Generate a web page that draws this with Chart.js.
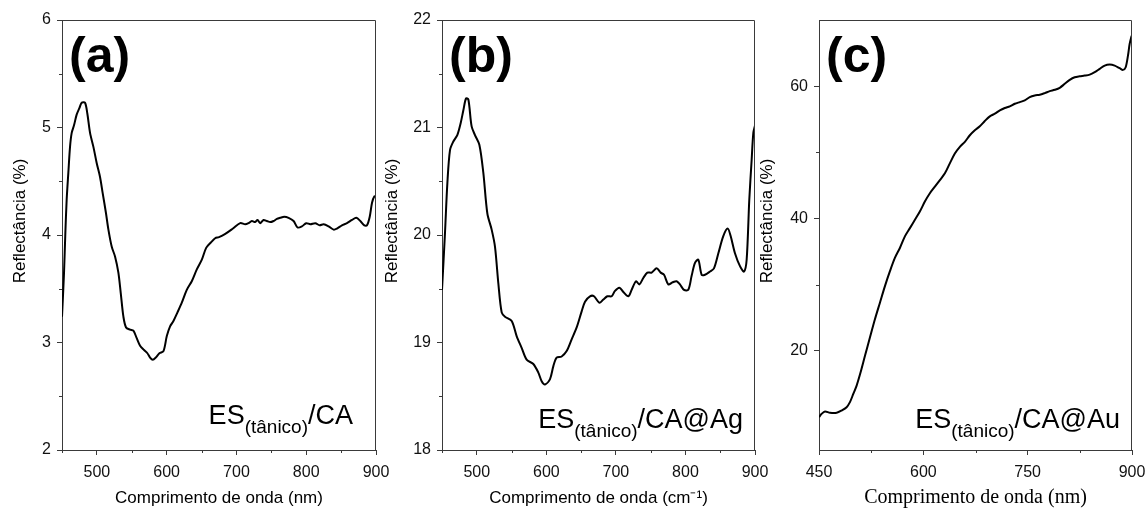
<!DOCTYPE html>
<html>
<head>
<meta charset="utf-8">
<script src="https://cdn.jsdelivr.net/npm/chart.js@4.4.1/dist/chart.umd.min.js"></script>
<style>
  html, body { margin: 0; padding: 0; background: #fff; }
  #wrap { position: relative; width: 1148px; height: 510px; overflow: hidden; }
  #wrap canvas { position: absolute; top: 0; }
</style>
</head>
<body>
<div id="wrap">
  <canvas id="chartA" width="402" height="510" style="left:0"></canvas>
  <canvas id="chartB" width="406" height="510" style="left:375px"></canvas>
  <canvas id="chartC" width="403" height="510" style="left:755px"></canvas>
</div>
<script>
// (a) ES(tânico)/CA
const waveA = [450, 452.9, 454.8, 456.7, 459.1, 461.5, 463.9, 467.2, 471, 474.9, 478.2, 483, 486.3, 490.2, 495, 499.7, 504.5, 508.3, 513.1, 516.5, 521.3, 526, 530.8, 534.2, 538, 541.8, 547.6, 552.3, 557.1, 561.9, 567.6, 572.4, 576.2, 580.1, 584.4, 589.6, 595.4, 600.2, 604.9, 609.7, 615.5, 621.7, 628.8, 636, 643.2, 650.4, 656.6, 663.3, 669.5, 675, 684, 695, 705.4, 712.5, 717.3, 722.1, 726.9, 730.2, 734, 738.8, 743.6, 748.4, 753.2, 758, 762.7, 768.5, 774.7, 781.9, 787.6, 793.8, 800, 805.8, 813, 819.2, 824.9, 832.1, 839.3, 844.1, 851.2, 858.4, 865.6, 871.8, 877.5, 883.3, 887.1, 891, 894.3, 897.7, 900];
const reflA = [3.24, 3.65, 4.02, 4.33, 4.58, 4.82, 4.95, 5.02, 5.12, 5.18, 5.23, 5.23, 5.13, 4.95, 4.82, 4.67, 4.54, 4.39, 4.20, 4.05, 3.89, 3.80, 3.65, 3.46, 3.24, 3.14, 3.12, 3.11, 3.04, 2.97, 2.93, 2.90, 2.86, 2.84, 2.86, 2.90, 2.92, 3.06, 3.15, 3.20, 3.28, 3.37, 3.49, 3.57, 3.68, 3.77, 3.88, 3.93, 3.97, 3.98, 4.01, 4.06, 4.11, 4.10, 4.11, 4.13, 4.12, 4.14, 4.11, 4.14, 4.13, 4.12, 4.13, 4.15, 4.16, 4.17, 4.16, 4.13, 4.07, 4.08, 4.11, 4.10, 4.11, 4.09, 4.10, 4.08, 4.05, 4.06, 4.09, 4.11, 4.14, 4.16, 4.13, 4.09, 4.09, 4.17, 4.30, 4.36, 4.36];

// (b) ES(tânico)/CA@Ag
const waveB = [450, 454.3, 457.7, 461.5, 466.3, 472, 476.8, 480.7, 484.5, 487.9, 492.6, 497.4, 503.7, 509.4, 515.2, 521.4, 526.2, 531, 535.8, 540.6, 550.2, 557.3, 564.5, 571.7, 581.3, 588.5, 593.3, 598.1, 605.3, 610.1, 614.8, 622, 629.2, 636.4, 643.6, 650.8, 655.6, 662.8, 668.5, 676.2, 681.9, 687.7, 693.9, 698.7, 705, 710.7, 717.9, 722.7, 728.9, 733.7, 739.4, 745.2, 751.4, 758.6, 764.4, 769.2, 775.4, 781.6, 787.4, 792.1, 797.9, 804.1, 808.9, 813.7, 818.5, 823.3, 828.1, 835.3, 841, 847.3, 854.4, 860.7, 865, 871.2, 878.4, 884.2, 888, 891.8, 895.2, 897.6, 900];
const reflB = [19.49, 20.02, 20.48, 20.79, 20.87, 20.93, 21.04, 21.16, 21.27, 21.26, 21.01, 20.93, 20.84, 20.58, 20.20, 20.05, 19.89, 19.55, 19.28, 19.24, 19.20, 19.06, 18.95, 18.84, 18.80, 18.72, 18.64, 18.61, 18.66, 18.78, 18.86, 18.87, 18.92, 19.03, 19.14, 19.29, 19.38, 19.43, 19.43, 19.37, 19.40, 19.43, 19.43, 19.48, 19.51, 19.47, 19.43, 19.49, 19.57, 19.54, 19.60, 19.65, 19.65, 19.69, 19.65, 19.63, 19.54, 19.56, 19.57, 19.54, 19.49, 19.49, 19.62, 19.74, 19.77, 19.63, 19.63, 19.66, 19.69, 19.83, 19.99, 20.06, 19.99, 19.83, 19.71, 19.66, 19.77, 20.33, 20.70, 20.95, 21.02];

// (c) ES(tânico)/CA@Au
const waveC = [450, 453.8, 458.6, 465.8, 475.4, 482.6, 489.7, 494.5, 499.3, 504.1, 509.8, 516.1, 523.2, 530.4, 537.6, 544.8, 552, 559.1, 566.3, 573.5, 580.7, 587.9, 595, 602.2, 609.4, 616.6, 623.8, 631, 638.1, 645.3, 652.5, 659.7, 666.9, 674, 681.2, 688.4, 695.6, 702.8, 710, 717.1, 724.3, 731.5, 738.7, 745.8, 753, 760.2, 767.4, 774.6, 781.7, 788.9, 796.1, 803.3, 810.5, 817.6, 824.8, 832, 839.2, 846.4, 853.5, 860.7, 867.9, 875.1, 882.3, 887.1, 890.9, 894.2, 896.6, 899.5];
const reflC = [9.97, 10.47, 10.82, 10.62, 10.62, 10.97, 11.47, 12.23, 13.48, 14.73, 16.74, 19.24, 22.0, 24.76, 27.27, 29.77, 32.03, 34.03, 35.54, 37.29, 38.54, 39.80, 41.05, 42.55, 43.81, 44.81, 45.81, 46.82, 48.32, 49.82, 50.83, 51.58, 52.58, 53.33, 53.93, 54.74, 55.44, 55.84, 56.34, 56.69, 56.94, 57.34, 57.59, 57.84, 58.35, 58.60, 58.70, 58.95, 59.25, 59.45, 59.75, 60.35, 60.95, 61.35, 61.50, 61.60, 61.75, 62.11, 62.61, 63.11, 63.26, 63.11, 62.71, 62.46, 62.86, 64.61, 66.37, 67.62];

// tick labels (major) and unlabelled minor ticks
const xTicksAB = [500, 600, 700, 800, 900];
const xMinorAB = [450, 550, 650, 750, 850];
const xTicksC = [450, 600, 750, 900];
const xMinorC = [525, 675, 825];
const yTicksA = [2, 3, 4, 5, 6];
const yMinorA = [2.5, 3.5, 4.5, 5.5];
const yTicksB = [18, 19, 20, 21, 22];
const yMinorB = [18.5, 19.5, 20.5, 21.5];
const yTicksC = [20, 40, 60];
const yMinorC = [30, 50];

const SANS = '"Liberation Sans", Arial, sans-serif';
const SERIF = '"Liberation Serif", "Times New Roman", serif';
const AXIS = '#3a3a3a';

// frame, minor ticks, y title, panel letter and sample label
const panelDecor = {
    id: 'panelDecor',
    afterDraw(chart, args, o) {
        const { ctx, chartArea: a, scales: { x, y } } = chart;
        ctx.save();
        ctx.strokeStyle = AXIS;
        ctx.lineWidth = 1;
        ctx.beginPath();
        ctx.moveTo(a.left, a.top + 0.5);
        ctx.lineTo(a.right - 0.5, a.top + 0.5);
        ctx.lineTo(a.right - 0.5, a.bottom);
        o.minorX.forEach(v => {
            const px = Math.round(x.getPixelForValue(v)) + 0.5;
            ctx.moveTo(px, a.bottom);
            ctx.lineTo(px, a.bottom + 3);
        });
        o.minorY.forEach(v => {
            const py = Math.round(y.getPixelForValue(v)) + 0.5;
            ctx.moveTo(a.left, py);
            ctx.lineTo(a.left - 3, py);
        });
        ctx.stroke();

        ctx.fillStyle = '#000';
        // y axis title
        ctx.save();
        ctx.translate(o.yTitleX, 221);
        ctx.rotate(-Math.PI / 2);
        ctx.font = '17px ' + SANS;
        ctx.textAlign = 'center';
        ctx.textBaseline = 'middle';
        ctx.fillText('Reflectância (%)', 0, 0);
        ctx.restore();

        // panel letter
        ctx.font = 'bold 50px ' + SANS;
        ctx.textAlign = 'left';
        ctx.textBaseline = 'alphabetic';
        ctx.fillText(o.letter, a.left + 7, 72);

        // sample label ES(tânico)/...
        const big = '27px ' + SANS, small = '19px ' + SANS;
        ctx.font = big;
        const w1 = ctx.measureText('ES').width;
        const w3 = ctx.measureText(o.suffix).width;
        ctx.font = small;
        const w2 = ctx.measureText('(tânico)').width;
        let tx = a.right - o.rightGap - (w1 + w2 + w3);
        ctx.font = big;
        ctx.fillText('ES', tx, o.baseY);
        tx += w1;
        ctx.font = small;
        ctx.fillText('(tânico)', tx, o.baseY + 9);
        tx += w2;
        ctx.font = big;
        ctx.fillText(o.suffix, tx, o.baseY);
        ctx.restore();
    }
};

function makePanel(id, p) {
    const data = p.wave.map((w, i) => ({ x: w, y: p.refl[i] }));
    return new Chart(document.getElementById(id), {
        type: 'line',
        data: {
            datasets: [{
                data: data,
                borderColor: '#000',
                borderWidth: 2,
                pointRadius: 0,
                tension: 0.3,
                fill: false
            }]
        },
        options: {
            responsive: false,
            animation: false,
            events: [],
            layout: { padding: { top: 20, right: 26, left: 0, bottom: 0 } },
            plugins: {
                legend: { display: false },
                tooltip: { enabled: false },
                panelDecor: p.decor
            },
            scales: {
                x: {
                    type: 'linear',
                    min: 450,
                    max: 900,
                    afterFit: s => { s.height = 60; },
                    afterBuildTicks: s => { s.ticks = p.xTicks.map(v => ({ value: v })); },
                    grid: { display: true, drawOnChartArea: false, drawTicks: true, tickLength: 5, color: AXIS, tickColor: AXIS },
                    border: { display: true, color: AXIS, width: 1 },
                    ticks: { color: '#111', padding: 8, font: { size: 16, family: SANS }, maxRotation: 0, callback: v => String(v) },
                    title: { display: true, text: p.xTitle, color: '#000', font: p.xTitleFont, padding: { top: 0, bottom: p.xTitlePad } }
                },
                y: {
                    type: 'linear',
                    min: p.yMin,
                    max: p.yMax,
                    afterFit: s => { s.width = p.yWidth; },
                    afterBuildTicks: s => { s.ticks = p.yTicks.map(v => ({ value: v })); },
                    grid: { display: true, drawOnChartArea: false, drawTicks: true, tickLength: 5, color: AXIS, tickColor: AXIS },
                    border: { display: true, color: AXIS, width: 1 },
                    ticks: { color: '#111', padding: 6, font: { size: 16, family: SANS }, callback: v => String(v) },
                    title: { display: false }
                }
            }
        },
        plugins: [panelDecor]
    });
}

makePanel('chartA', {
    wave: waveA, refl: reflA,
    xTicks: xTicksAB, yTicks: yTicksA, yMin: 2, yMax: 6,
    yWidth: 62,
    xTitle: 'Comprimento de onda (nm)', xTitleFont: { size: 17, family: SANS }, xTitlePad: 1,
    decor: { letter: '(a)', suffix: '/CA', rightGap: 23, baseY: 424, yTitleX: 20, minorX: xMinorAB, minorY: yMinorA }
});

makePanel('chartB', {
    wave: waveB, refl: reflB,
    xTicks: xTicksAB, yTicks: yTicksB, yMin: 18, yMax: 22,
    yWidth: 67,
    xTitle: 'Comprimento de onda (cm⁻¹)', xTitleFont: { size: 17, family: SANS }, xTitlePad: 1,
    decor: { letter: '(b)', suffix: '/CA@Ag', rightGap: 12, baseY: 428, yTitleX: 17, minorX: xMinorAB, minorY: yMinorB }
});

makePanel('chartC', {
    wave: waveC, refl: reflC,
    xTicks: xTicksC, yTicks: yTicksC, yMin: 5, yMax: 70,
    yWidth: 64,
    xTitle: 'Comprimento de onda (nm)', xTitleFont: { size: 20, family: SERIF }, xTitlePad: 0,
    decor: { letter: '(c)', suffix: '/CA@Au', rightGap: 12, baseY: 428, yTitleX: 12, minorX: xMinorC, minorY: yMinorC }
});
</script>
</body>
</html>
